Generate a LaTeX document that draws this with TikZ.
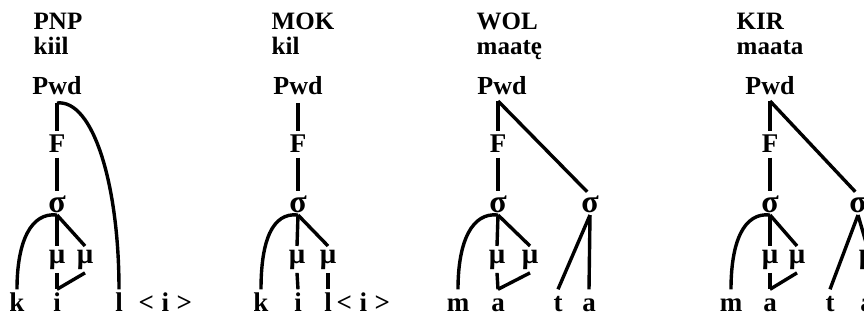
\documentclass[tikz,border=0pt]{standalone}
\usepackage{fontspec}
\setmainfont{Liberation Serif}
\begin{document}
\begin{tikzpicture}[x=1pt,y=-1pt,line width=3.4pt,
  lab/.style={font=\fontsize{25}{25}\selectfont\bfseries, inner sep=0pt, anchor=base west},
  pw/.style={font=\fontsize{26}{26}\selectfont\bfseries, inner sep=0pt, anchor=base},
  fnode/.style={font=\fontsize{27}{27}\selectfont\bfseries, inner xsep=0pt, inner ysep=3pt, anchor=base},
  sig/.style={font=\fontsize{32}{32}\selectfont\bfseries, inner sep=0pt, anchor=base},
  mu/.style={font=\fontsize{29}{29}\selectfont\bfseries, inner xsep=0pt, inner ysep=2pt, anchor=base},
  seg/.style={font=\fontsize{27}{27}\selectfont\bfseries, anchor=base, text height=18pt, text depth=0pt, inner xsep=0pt, inner ysep=2pt},
  tail/.style={font=\fontsize{27}{27}\selectfont\bfseries, inner sep=0pt, anchor=base west},
  up/.style={shorten >=4pt}]
\useasboundingbox (0,0) rectangle (864,320);
\clip (0,0) rectangle (864,320);

% ---------- panel 1: PNP ----------
\node[lab] (t1) at (32,30) {PNP};
\node[lab] (w1) at (32,55) {kiil};
\node[pw]  (p1) at (57,95) {Pwd};
\coordinate (v1) at (57,103);
\node[fnode] (f1) at (57,153) {F};
\node[sig] (s1) at (57,213) {σ};
\node[mu] (m11) at (57,263) {μ};
\node[mu] (m12) at (85,263) {μ};
\node[seg] (k1) at (17,311) {k};
\node[seg] (i1) at (57,311) {i};
\node[seg] (l1) at (119,311) {l};
\node[tail] (x1) at (137,311) {<\;i\;>};
\draw (v1) -- (f1.north);
\draw[up] (f1.south) -- (s1.north);
\draw (s1.south) -- (m11.north);
\draw (s1.south) -- (m12.north);
\draw (m11.south) -- (i1.north);
\draw (m12.south) -- (i1.north);
\draw (s1.south) .. controls +(-26,-3) and +(0,-48) .. (k1.north);
\draw (v1) .. controls +(36,-4) and +(0,-105) .. (l1.north);

% ---------- panel 2: MOK ----------
\node[lab] (t2) at (270,30) {MOK};
\node[lab] (w2) at (270,55) {kil};
\node[pw]  (p2) at (298,95) {Pwd};
\coordinate (v2) at (298,103);
\node[fnode] (f2) at (298,153) {F};
\node[sig] (s2) at (298,213) {σ};
\node[mu] (m21) at (297,263) {μ};
\node[mu] (m22) at (328,263) {μ};
\node[seg] (k2) at (261,311) {k};
\node[seg] (i2) at (298,311) {i};
\node[seg] (l2) at (328,311) {l};
\node[tail] (x2) at (335,311) {<\;i\;>};
\draw (v2) -- (f2.north);
\draw[up] (f2.south) -- (s2.north);
\draw (s2.south) -- (m21.north);
\draw (s2.south) -- (m22.north);
\draw (m21.south) -- (i2.north);
\draw (m22.south) -- (l2.north);
\draw (s2.south) .. controls +(-26,-3) and +(0,-48) .. (k2.north);

% ---------- panel 3: WOL ----------
\node[lab] (t3) at (475,30) {WOL};
\node[lab] (w3) at (475,55) {maatę};
\node[pw]  (p3) at (502,95) {Pwd};
\coordinate (v3) at (498,101);
\node[fnode] (f3) at (498,153) {F};
\node[sig] (s3) at (498,213) {σ};
\node[sig] (s4) at (590,213) {σ};
\node[mu] (m31) at (497,263) {μ};
\node[mu] (m32) at (530,263) {μ};
\node[seg] (c31) at (458,311) {m};
\node[seg] (c32) at (498,311) {a};
\node[seg] (c33) at (558,311) {t};
\node[seg] (c34) at (589,311) {a};
\draw (v3) -- (f3.north);
\draw[up] (v3) -- (s4.north);
\draw[up] (f3.south) -- (s3.north);
\draw (s3.south) -- (m31.north);
\draw (s3.south) -- (m32.north);
\draw (m31.south) -- (c32.north);
\draw (m32.south) -- (c32.north);
\draw (s3.south) .. controls +(-26,-3) and +(0,-48) .. (c31.north);
\draw (s4.south) -- (c33.north);
\draw (s4.south) -- (c34.north);

% ---------- panel 4: KIR ----------
\node[lab] (t4) at (735,30) {KIR};
\node[lab] (w4) at (735,55) {maata};
\node[pw]  (p4) at (770,95) {Pwd};
\coordinate (v4) at (770,101);
\node[fnode] (f4) at (770,153) {F};
\node[sig] (s5) at (770,213) {σ};
\node[sig] (s6) at (858,213) {σ};
\node[mu] (m41) at (770,263) {μ};
\node[mu] (m42) at (797,263) {μ};
\node[mu] (m43) at (867,263) {μ};
\node[seg] (c41) at (731,311) {m};
\node[seg] (c42) at (770,311) {a};
\node[seg] (c43) at (830,311) {t};
\node[seg] (c44) at (867,311) {a};
\draw (v4) -- (f4.north);
\draw[up] (v4) -- (s6.north);
\draw[up] (f4.south) -- (s5.north);
\draw (s5.south) -- (m41.north);
\draw (s5.south) -- (m42.north);
\draw (m41.south) -- (c42.north);
\draw (m42.south) -- (c42.north);
\draw (s5.south) .. controls +(-26,-3) and +(0,-48) .. (c41.north);
\draw (s6.south) -- (c43.north);
\draw (s6.south) -- (m43.north);
\draw (m43.south) -- (c44.north);
\end{tikzpicture}
\end{document}
